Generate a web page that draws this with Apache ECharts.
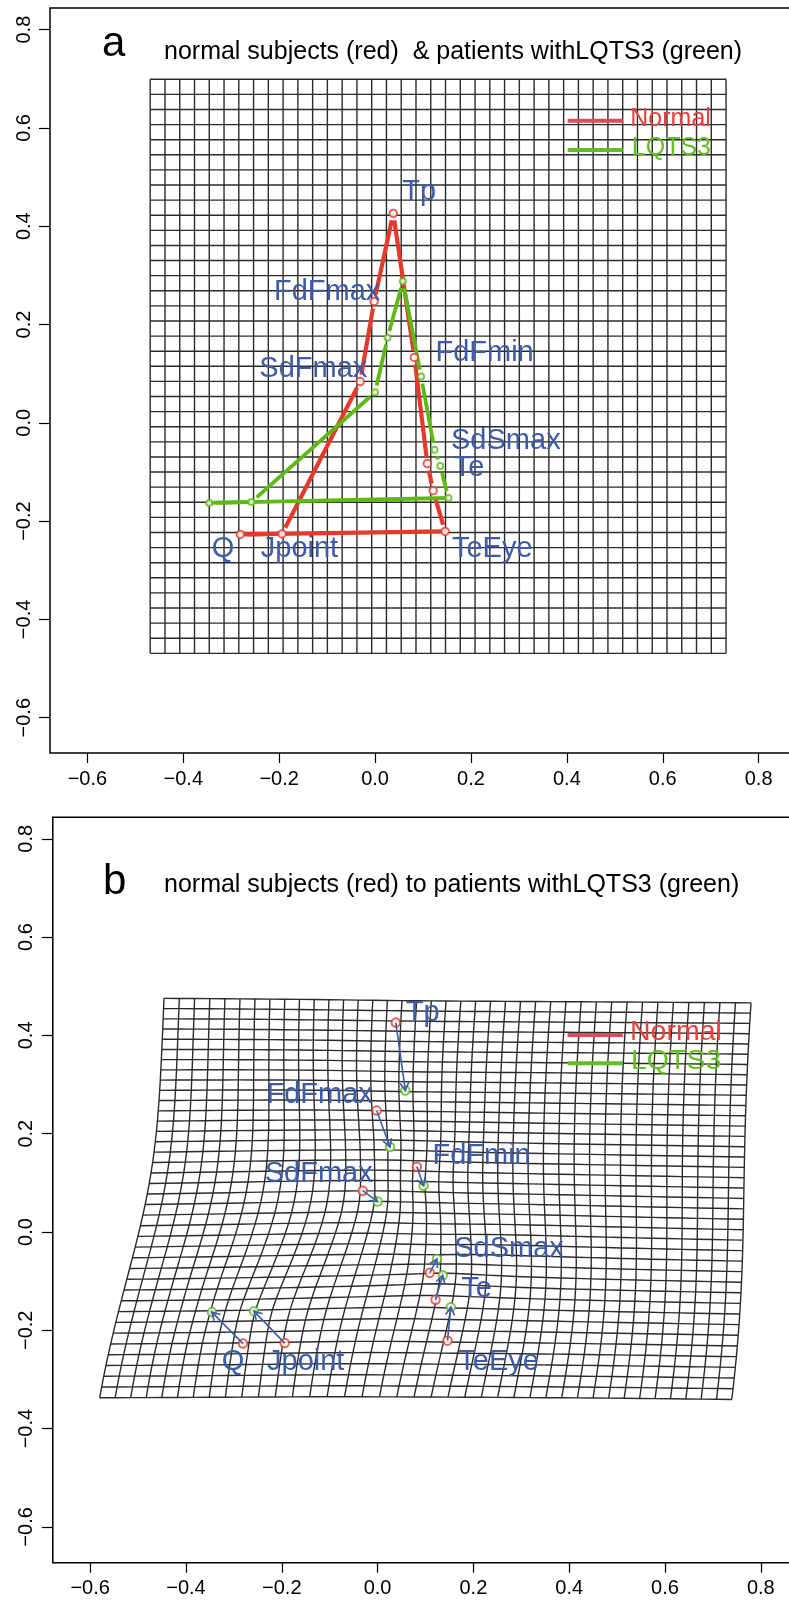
<!DOCTYPE html>
<html><head><meta charset="utf-8">
<script src="https://cdn.jsdelivr.net/npm/echarts@6/dist/echarts.min.js"></script>
<style>html,body{margin:0;padding:0;background:#fff}#c{width:789px;height:1601px}</style>
</head><body><div id="c"></div>
<script>
// ---------------- data ----------------
const landmarkNames = ['Q','Jpoint','SdFmax','FdFmax','Tp','FdFmin','SdSmax','Te','TeEye'];
const normalX = [-0.281,-0.194,-0.031,-0.002,0.038,0.082,0.109,0.121,0.146];
const normalY = [-0.227,-0.226,0.084,0.247,0.426,0.133,-0.083,-0.138,-0.221];
const lqtsX   = [-0.346,-0.258,0.000,0.026,0.058,0.096,0.124,0.136,0.153];
const lqtsY   = [-0.163,-0.161,0.062,0.173,0.288,0.094,-0.055,-0.088,-0.153];
const xTicks = [-0.6,-0.4,-0.2,0.0,0.2,0.4,0.6,0.8];
const yTicks = [-0.6,-0.4,-0.2,0.0,0.2,0.4,0.6,0.8];
const legendNames = ['Normal','LQTS3'];
// reference (undeformed) grid
const refGridX = [-0.469, 0.732];
const refGridY = [-0.469, 0.699];
const refGridCols = 39, refGridRows = 38;

// ---------------- layout (kept apart from data) ----------------
const labelPosA = [[-0.317,-0.2576],[-0.1577,-0.2576],[-0.1289,0.1097],[-0.1001,0.2663],[0.0918,0.469],[0.2284,0.1418],[0.2727,-0.0362],[0.1962,-0.0912],[0.2444,-0.2576]];
const labelPosB = [[-0.302,-0.2649],[-0.150,-0.2649],[-0.1228,0.1176],[-0.121,0.2787],[0.0943,0.445],[0.2171,0.154],[0.2745,-0.0352],[0.2067,-0.1166],[0.2526,-0.2649]];
const RED = '#E43A2C', GREEN = '#5DBA14', BLUE = '#3D5BAA', GRIDC = '#2b2b2b';
const FONT = '"Liberation Sans", Arial, Helvetica, sans-serif';
const GAP = 7;

// ---------------- thin plate spline (normal -> LQTS3) ----------------
function solve(A, b){
  const n=b.length; const M=A.map((r,i)=>r.concat([b[i]]));
  for(let c=0;c<n;c++){
    let p=c; for(let r=c+1;r<n;r++) if(Math.abs(M[r][c])>Math.abs(M[p][c])) p=r;
    const t=M[c]; M[c]=M[p]; M[p]=t;
    for(let r=0;r<n;r++){ if(r===c) continue; const f=M[r][c]/M[c][c]; if(!f) continue; for(let k=c;k<=n;k++) M[r][k]-=f*M[c][k]; }
  }
  return M.map((r,i)=>r[n]/r[i]);
}
const U = r2 => r2>0 ? r2*Math.log(r2) : 0;
function tpsFit(sx, sy, tx, ty){
  const n=sx.length, N=n+3;
  const A=[]; for(let i=0;i<N;i++) A.push(new Array(N).fill(0));
  for(let i=0;i<n;i++){
    for(let j=0;j<n;j++){ const dx=sx[i]-sx[j], dy=sy[i]-sy[j]; A[i][j]=U(dx*dx+dy*dy); }
    A[i][n]=1; A[i][n+1]=sx[i]; A[i][n+2]=sy[i];
    A[n][i]=1; A[n+1][i]=sx[i]; A[n+2][i]=sy[i];
  }
  const wx=solve(A, tx.concat([0,0,0])), wy=solve(A, ty.concat([0,0,0]));
  return (x,y)=>{
    let fx=wx[n]+wx[n+1]*x+wx[n+2]*y, fy=wy[n]+wy[n+1]*x+wy[n+2]*y;
    for(let i=0;i<n;i++){ const dx=x-sx[i], dy=y-sy[i]; const u=U(dx*dx+dy*dy); fx+=wx[i]*u; fy+=wy[i]*u; }
    return [fx,fy];
  };
}
const warp = tpsFit(normalX, normalY, lqtsX, lqtsY);
function gridLines(f){
  const xs=[], ys=[], out=[];
  for(let i=0;i<=refGridCols;i++) xs.push(refGridX[0]+(refGridX[1]-refGridX[0])*i/refGridCols);
  for(let j=0;j<=refGridRows;j++) ys.push(refGridY[0]+(refGridY[1]-refGridY[0])*j/refGridRows);
  xs.forEach(x=>out.push({coords: ys.map(y=>f(x,y))}));
  ys.forEach(y=>out.push({coords: xs.map(x=>f(x,y))}));
  return out;
}

// segments of the landmark polygon: Q..TeEye with gaps, closing TeEye->Q without
function segs(X, Y){
  const s=[];
  for(let i=0;i<X.length-1;i++) s.push([X[i],Y[i],X[i+1],Y[i+1],1]);
  s.push([X[X.length-1],Y[Y.length-1],X[0],Y[0],0]);
  return s;
}
function segRender(color, w){
  return (params, api)=>{
    const p1=api.coord([api.value(0),api.value(1)]), p2=api.coord([api.value(2),api.value(3)]);
    const gap=api.value(4)?GAP:0;
    const dx=p2[0]-p1[0], dy=p2[1]-p1[1], L=Math.hypot(dx,dy);
    if(L<=2*gap) return null;
    const ux=dx/L, uy=dy/L;
    return {type:'line', shape:{x1:p1[0]+ux*gap,y1:p1[1]+uy*gap,x2:p2[0]-ux*gap,y2:p2[1]-uy*gap},
      style:{stroke:color,lineWidth:w,lineCap:'butt'}};
  };
}
function labelRender(size){
  return (params, api)=>{
    const p=api.coord([api.value(0),api.value(1)]);
    return {type:'text', x:p[0], y:p[1], style:{text:landmarkNames[params.dataIndex], fill:BLUE,
      fontSize:size, fontFamily:FONT, align:'center', verticalAlign:'middle'}};
  };
}
function arrowRender(params, api){
  const p1=api.coord([api.value(0),api.value(1)]), p2=api.coord([api.value(2),api.value(3)]);
  const ang=Math.atan2(p2[1]-p1[1],p2[0]-p1[0]), L=9, a=Math.PI/6;
  const h1=[p2[0]-L*Math.cos(ang-a),p2[1]-L*Math.sin(ang-a)];
  const h2=[p2[0]-L*Math.cos(ang+a),p2[1]-L*Math.sin(ang+a)];
  return {type:'group', children:[
    {type:'line',shape:{x1:p1[0],y1:p1[1],x2:p2[0],y2:p2[1]},style:{stroke:BLUE,lineWidth:1.6}},
    {type:'polyline',shape:{points:[h1,p2,h2]},style:{stroke:BLUE,lineWidth:1.6,fill:null}}
  ]};
}
const fmt = v => (v<0?'\u2212':'')+Math.abs(v).toFixed(1);
function xAx(g){ return {gridIndex:g,type:'value',min:-0.678,max:0.9,position:'bottom',
  axisLine:{show:false,onZero:false},splitLine:{show:false},
  axisTick:{show:true,inside:false,length:10,customValues:xTicks,lineStyle:{color:'#000',width:1.2}},
  axisLabel:{show:true,customValues:xTicks,formatter:fmt,margin:16,color:'#000',fontSize:20,fontFamily:FONT}}; }
function yAx(g,min,max){ return {gridIndex:g,type:'value',min:min,max:max,position:'left',
  axisLine:{show:false,onZero:false},splitLine:{show:false},
  axisTick:{show:true,inside:false,length:11,customValues:yTicks,lineStyle:{color:'#000',width:1.2}},
  axisLabel:{show:true,customValues:yTicks,formatter:fmt,rotate:90,margin:16,color:'#000',fontSize:20,fontFamily:FONT}}; }
const pts = (X,Y)=>X.map((x,i)=>[x,Y[i]]);

const option = {
  animation:false,
  textStyle:{fontFamily:FONT},
  grid:[
    {left:50,top:8,width:756.6,height:745.1,show:true,borderColor:'#000',borderWidth:1.5,containLabel:false,outerBoundsMode:'none'},
    {left:52.8,top:817.3,width:755.9,height:745.4,show:true,borderColor:'#000',borderWidth:1.5,containLabel:false,outerBoundsMode:'none'}
  ],
  xAxis:[xAx(0),xAx(1)],
  yAxis:[yAx(0,-0.672,0.844),yAx(1,-0.6728,0.8437)],
  series:[
    {type:'lines',coordinateSystem:'cartesian2d',xAxisIndex:0,yAxisIndex:0,polyline:true,silent:true,z:1,
      data:gridLines((x,y)=>[x,y]),lineStyle:{color:GRIDC,width:1.4,opacity:1}},
    {type:'custom',xAxisIndex:0,yAxisIndex:0,z:2,silent:true,data:segs(normalX,normalY),renderItem:segRender(RED,4.2)},
    {type:'custom',xAxisIndex:0,yAxisIndex:0,z:2,silent:true,data:segs(lqtsX,lqtsY),renderItem:segRender(GREEN,3.8)},
    {type:'scatter',xAxisIndex:0,yAxisIndex:0,z:3,silent:true,symbol:'emptyCircle',symbolSize:7.5,
      itemStyle:{color:RED,borderWidth:2},data:pts(normalX,normalY)},
    {type:'scatter',xAxisIndex:0,yAxisIndex:0,z:3,silent:true,symbol:'emptyCircle',symbolSize:6,
      itemStyle:{color:GREEN,borderWidth:1.8},data:pts(lqtsX,lqtsY)},
    {type:'custom',xAxisIndex:0,yAxisIndex:0,z:5,silent:true,data:labelPosA,renderItem:labelRender(29)},

    {type:'lines',coordinateSystem:'cartesian2d',xAxisIndex:1,yAxisIndex:1,polyline:true,silent:true,z:1,
      data:gridLines(warp),lineStyle:{color:GRIDC,width:1.4,opacity:1}},
    {type:'scatter',xAxisIndex:1,yAxisIndex:1,z:3,silent:true,symbol:'emptyCircle',symbolSize:8.5,
      itemStyle:{color:RED,borderWidth:2.2},data:pts(normalX,normalY)},
    {type:'scatter',xAxisIndex:1,yAxisIndex:1,z:3,silent:true,symbol:'emptyCircle',symbolSize:8.5,
      itemStyle:{color:GREEN,borderWidth:2.2},data:pts(lqtsX,lqtsY)},
    {type:'custom',xAxisIndex:1,yAxisIndex:1,z:4,silent:true,
      data:normalX.map((x,i)=>[x,normalY[i],lqtsX[i],lqtsY[i]]),renderItem:arrowRender},
    {type:'custom',xAxisIndex:1,yAxisIndex:1,z:5,silent:true,data:labelPosB,renderItem:labelRender(29)}
  ],
  graphic:[
    {type:'text',x:102,y:44,z:10,style:{text:'a',fontSize:42,fontFamily:FONT,fill:'#000',align:'left',verticalAlign:'middle'}},
    {type:'text',x:164,y:52.3,z:10,style:{text:'normal subjects (red)  & patients withLQTS3 (green)',fontSize:25,fontFamily:FONT,fill:'#000',align:'left',verticalAlign:'middle'}},
    {type:'line',z:10,shape:{x1:567.6,y1:120.7,x2:622.8,y2:120.7},style:{stroke:'#E5475A',lineWidth:4}},
    {type:'line',z:10,shape:{x1:567.6,y1:150,x2:622.8,y2:150},style:{stroke:'#62BE1F',lineWidth:4}},
    {type:'text',x:630.3,y:119.6,z:10,style:{text:legendNames[0],fontSize:25,fontFamily:FONT,fill:'#E8403A',align:'left',verticalAlign:'middle'}},
    {type:'text',x:631.8,y:148.6,z:10,style:{text:legendNames[1],fontSize:25,fontFamily:FONT,fill:'#62C020',align:'left',verticalAlign:'middle'}},

    {type:'text',x:103,y:882.7,z:10,style:{text:'b',fontSize:42,fontFamily:FONT,fill:'#000',align:'left',verticalAlign:'middle'}},
    {type:'text',x:164,y:885.6,z:10,style:{text:'normal subjects (red) to patients withLQTS3 (green)',fontSize:25,fontFamily:FONT,fill:'#000',align:'left',verticalAlign:'middle'}},
    {type:'line',z:10,shape:{x1:567.6,y1:1035,x2:622.8,y2:1035},style:{stroke:'#E5475A',lineWidth:4}},
    {type:'line',z:10,shape:{x1:567.6,y1:1063.3,x2:622.8,y2:1063.3},style:{stroke:'#62BE1F',lineWidth:4}},
    {type:'text',x:630,y:1031.8,z:10,style:{text:legendNames[0],fontSize:28.5,fontFamily:FONT,fill:'#E8403A',align:'left',verticalAlign:'middle'}},
    {type:'text',x:631,y:1060.8,z:10,style:{text:legendNames[1],fontSize:28.5,fontFamily:FONT,fill:'#62C020',align:'left',verticalAlign:'middle'}}
  ]
};
const chart = echarts.init(document.getElementById('c'), null, {renderer:'canvas', width:789, height:1601});
chart.setOption(option);
</script>
</body></html>
